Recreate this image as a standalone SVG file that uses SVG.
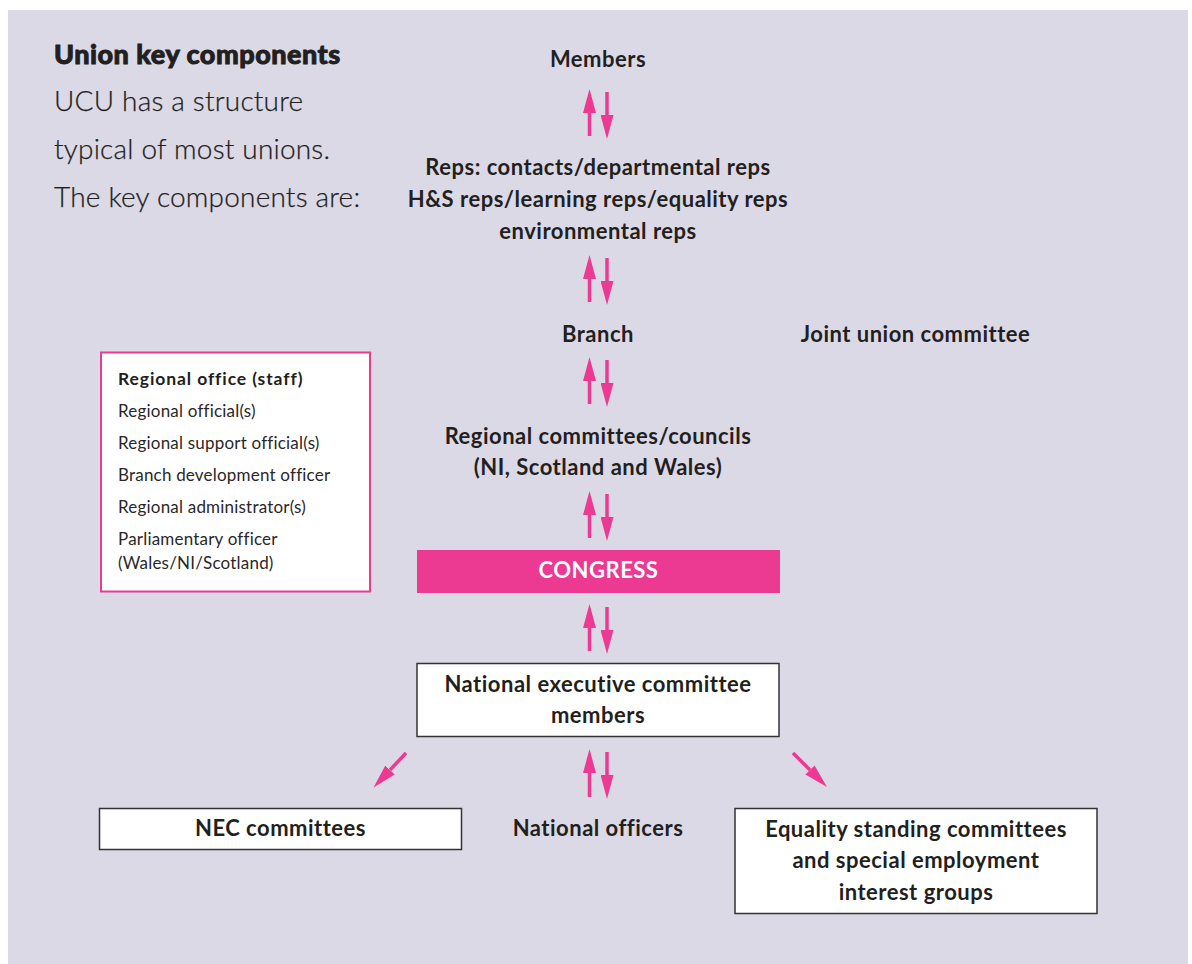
<svg xmlns="http://www.w3.org/2000/svg" width="1192" height="964" viewBox="0 0 1192 964">
<defs>
<style>
.lbl{font-family:Lato,"Open Sans","Liberation Sans",sans-serif;font-weight:700;font-size:22px;letter-spacing:0.5px;fill:#231f20;text-anchor:middle}
.title{font-family:Lato,"Liberation Sans",sans-serif;font-weight:900;font-size:27px;letter-spacing:0.5px;fill:#231f20;stroke:#231f20;stroke-width:0.9px}
.body{font-family:Lato,"Liberation Sans",sans-serif;font-weight:300;font-size:28px;letter-spacing:0.2px;fill:#231f20;stroke:#231f20;stroke-width:0.25px}
.small{font-family:Lato,"Liberation Sans",sans-serif;font-weight:400;font-size:17px;letter-spacing:0.2px;fill:#2b2728}
.smallb{font-family:Lato,"Liberation Sans",sans-serif;font-weight:700;font-size:17.5px;letter-spacing:0.9px;fill:#231f20}
.box{fill:#ffffff;stroke:#333333;stroke-width:1.5}
.arr{stroke:#ec3a93;stroke-width:3.5;fill:none;marker-end:url(#head)}
</style>
<marker id="head" markerUnits="userSpaceOnUse" markerWidth="24" markerHeight="13" refX="0" refY="6.5" orient="auto" viewBox="0 0 24 13">
<path d="M0,0 L24,6.5 L0,13 z" fill="#ec3a93"/>
</marker>
</defs>
<rect x="8" y="10" width="1180" height="954" fill="#dcd9e7"/>

<g id="intro">
<text class="title" x="54" y="64">Union key components</text>
<text class="body" x="54" y="111">UCU has a structure</text>
<text class="body" x="54" y="159">typical of most unions.</text>
<text class="body" x="54" y="207">The key components are:</text>
</g>

<g id="members"><text class="lbl" x="598" y="67">Members</text></g>
<g id="reps">
<text class="lbl" x="598" y="175">Reps: contacts/departmental reps</text>
<text class="lbl" x="598" y="207">H&amp;S reps/learning reps/equality reps</text>
<text class="lbl" x="598" y="239">environmental reps</text>
</g>
<g id="branch"><text class="lbl" x="598" y="342">Branch</text></g>
<g id="joint"><text class="lbl" x="915.5" y="342">Joint union committee</text></g>
<g id="regional-committees">
<text class="lbl" x="598" y="444">Regional committees/councils</text>
<text class="lbl" x="598" y="475">(NI, Scotland and Wales)</text>
</g>
<g id="regional-office">
<rect x="101" y="352.5" width="269" height="239" fill="#ffffff" stroke="#ec3a93" stroke-width="2"/>
<text class="smallb" x="118" y="385">Regional office (staff)</text>
<text class="small" x="118" y="417">Regional official(s)</text>
<text class="small" x="118" y="449">Regional support official(s)</text>
<text class="small" x="118" y="481">Branch development officer</text>
<text class="small" x="118" y="513">Regional administrator(s)</text>
<text class="small" x="118" y="545">Parliamentary officer</text>
<text class="small" x="118" y="569">(Wales/NI/Scotland)</text>
</g>
<g id="congress">
<rect x="417" y="550" width="363" height="43" fill="#ec3a93"/>
<text class="lbl" x="598.5" y="578" style="fill:#ffffff">CONGRESS</text>
</g>
<g id="nec">
<rect class="box" x="417" y="663.5" width="362" height="73"/>
<text class="lbl" x="598" y="692">National executive committee</text>
<text class="lbl" x="598" y="723">members</text>
</g>
<g id="nec-committees">
<rect class="box" x="99.5" y="808.5" width="362" height="41"/>
<text class="lbl" x="280.5" y="836">NEC committees</text>
</g>
<g id="national-officers"><text class="lbl" x="598" y="836">National officers</text></g>
<g id="equality">
<rect class="box" x="735" y="808.5" width="362" height="105"/>
<text class="lbl" x="916" y="837">Equality standing committees</text>
<text class="lbl" x="916" y="868">and special employment</text>
<text class="lbl" x="916" y="900">interest groups</text>
</g>

<g id="connectors">
<line class="arr" x1="589.5" y1="136" x2="589.5" y2="113"/>
<line class="arr" x1="607" y1="92" x2="607" y2="115"/>
<line class="arr" x1="589.5" y1="302" x2="589.5" y2="279"/>
<line class="arr" x1="607" y1="258" x2="607" y2="281"/>
<line class="arr" x1="589.5" y1="404" x2="589.5" y2="381"/>
<line class="arr" x1="607" y1="360" x2="607" y2="383"/>
<line class="arr" x1="589.5" y1="538" x2="589.5" y2="515"/>
<line class="arr" x1="607" y1="494" x2="607" y2="517"/>
<line class="arr" x1="589.5" y1="651" x2="589.5" y2="628"/>
<line class="arr" x1="607" y1="607" x2="607" y2="630"/>
<line class="arr" x1="589.5" y1="797" x2="589.5" y2="773"/>
<line class="arr" x1="607" y1="752" x2="607" y2="775"/>
<line class="arr" x1="406" y1="753" x2="390" y2="770"/>
<line class="arr" x1="793" y1="753" x2="810" y2="770"/>
</g>
</svg>
